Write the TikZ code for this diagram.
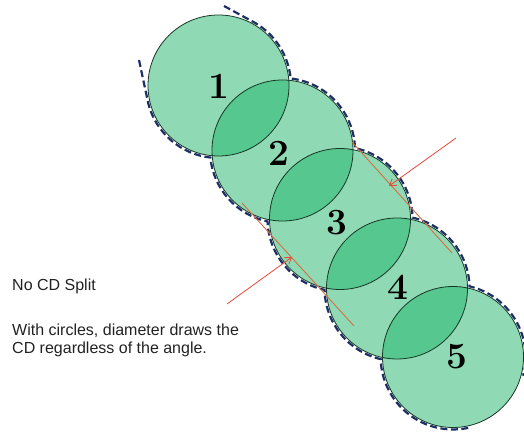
\documentclass[tikz,border=0pt]{standalone}
\usepackage{fontspec}
\newfontfamily\arialfont{Liberation Sans}
\usetikzlibrary{calc,arrows.meta}
\definecolor{discgreen}{RGB}{31,181,105}
\definecolor{rimgreen}{RGB}{22,55,38}
\definecolor{navy}{RGB}{28,48,100}
\definecolor{tanred}{RGB}{214,110,70}
\definecolor{arrred}{RGB}{232,72,58}
\definecolor{txtgray}{RGB}{34,34,34}
\begin{document}
\begin{tikzpicture}[x=1pt,y=1pt,
  disc/.style={circle,inner sep=0pt,minimum size=141pt,fill=discgreen,fill opacity=0.5},
  rim/.style={draw=rimgreen,line width=0.8pt},
  num/.style={font=\fontsize{37}{37}\selectfont\bfseries,text=black,inner sep=0pt},
  envelope/.style={draw=navy,line width=2.2pt,dash pattern=on 7pt off 3.5pt},
  tangentline/.style={draw=tanred,line width=0.9pt},
  pointer/.style={draw=arrred,line width=0.8pt,-{Straight Barb[length=6pt,width=8pt]}},
  caption/.style={font=\arialfont\fontsize{16}{18}\selectfont,text=txtgray,inner sep=0pt,anchor=base west}]
\useasboundingbox (0,0) rectangle (524,436);
\clip (0,0) rectangle (524,436);
% discs
\node[disc] (C1) at (218.5,350.5) {};
\node[disc] (C2) at (282.5,285.5) {};
\node[disc] (C3) at (340,217) {};
\node[disc] (C4) at (397,147.5) {};
\node[disc] (C5) at (453,79) {};
\foreach \i in {1,...,5} \draw[rim] (C\i.center) circle[radius=70.5];
% labels
\node[num] (L1) at (219,350) {1};
\node[num] (L2) at (279,283) {2};
\node[num] (L3) at (337,213) {3};
\node[num] (L4) at (398,149) {4};
\node[num] (L5) at (457,79) {5};
% dashed envelope, right side
\coordinate (rs) at (224,430);
\coordinate (ls) at (139,376);
\draw[envelope] (rs) -- ($(C1.center)+(60:72.5)$)
  arc[start angle=60,end angle=5.56,radius=72.5]
  arc[start angle=83.56,end angle=1.9,radius=72.5]
  arc[start angle=78.1,end angle=1.1,radius=72.5]
  arc[start angle=77.7,end angle=1.7,radius=72.5]
  arc[start angle=76.9,end angle=-15,radius=72.5];
% dashed envelope, left side
\draw[envelope] (ls) -- ($(C1.center)+(195:72.5)$)
  arc[start angle=195,end angle=263.56,radius=72.5]
  arc[start angle=185.56,end angle=258.1,radius=72.5]
  arc[start angle=181.9,end angle=257.7,radius=72.5]
  arc[start angle=181.1,end angle=256.9,radius=72.5]
  arc[start angle=181.7,end angle=282,radius=72.5];
% tangent (diameter) lines
\coordinate (ra) at (352,294);
\coordinate (rb) at (452,183);
\coordinate (la) at (242,233);
\coordinate (lb) at (354,110);
\draw[tangentline] (ra) -- (rb);
\draw[tangentline] (la) -- (lb);
% pointers
\coordinate (pa) at (456,298);
\coordinate (pb) at (389,250);
\coordinate (qa) at (227,132);
\coordinate (qb) at (292,179);
\draw[pointer] (pa) -- (pb);
\draw[pointer] (qa) -- (qb);
% captions
\node[caption] (t1) at (12,145.3) {No CD Split};
\node[caption] (t2) at (12,100) {With circles, diameter draws the};
\node[caption] (t3) at (12,82) {CD regardless of the angle.};
\end{tikzpicture}
\end{document}
